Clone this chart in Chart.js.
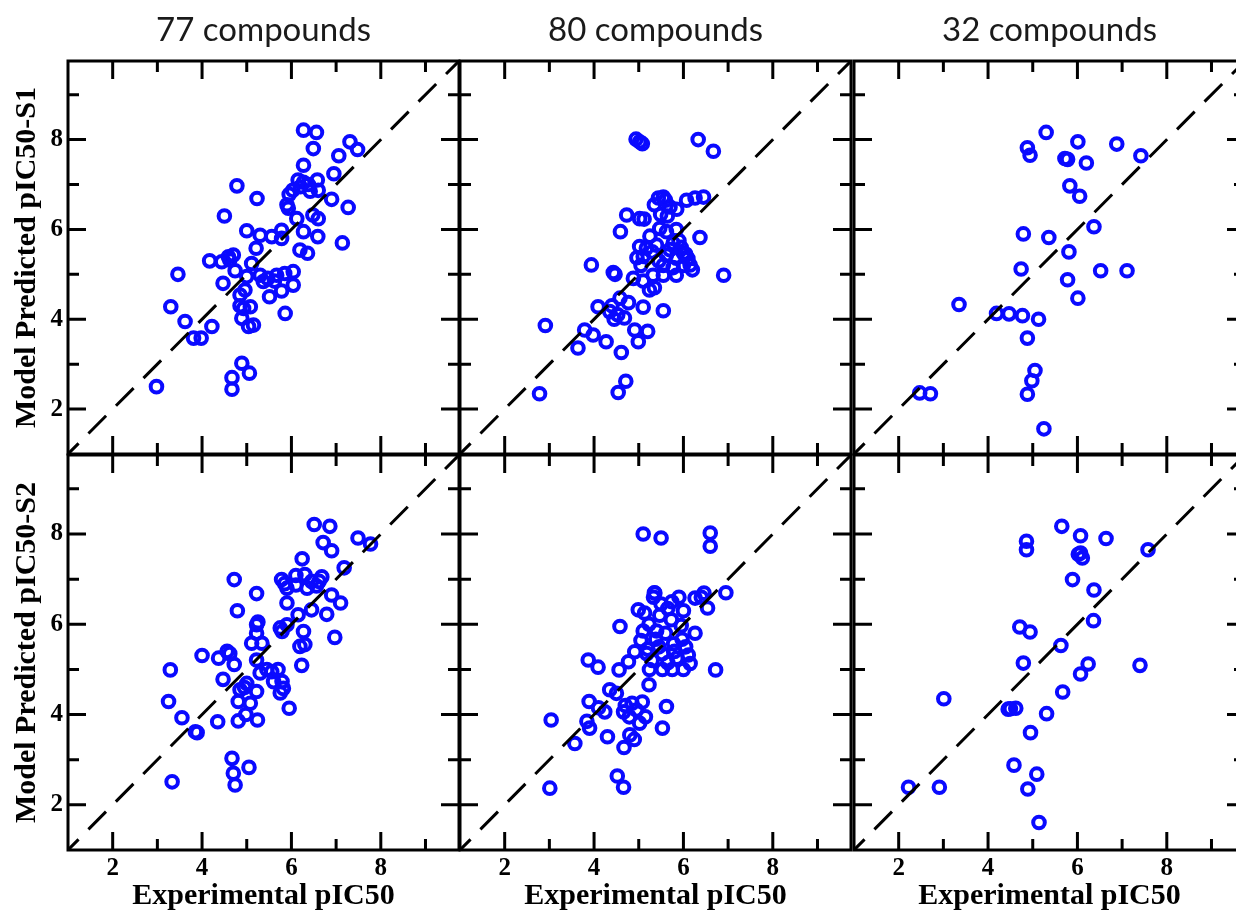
<!DOCTYPE html>
<html>
<head>
<meta charset="utf-8">
<script src="https://cdn.jsdelivr.net/npm/chart.js@4.4.1/dist/chart.umd.min.js"></script>
<style>
html,body{margin:0;padding:0;background:#fff;overflow:hidden;width:1236px;height:911px;}
canvas{position:absolute;left:0;top:0;}
</style>
</head>
<body>
<canvas id="p0" width="1260" height="911"></canvas>
<canvas id="p1" width="1260" height="911"></canvas>
<canvas id="p2" width="1260" height="911"></canvas>
<canvas id="p3" width="1260" height="911"></canvas>
<canvas id="p4" width="1260" height="911"></canvas>
<canvas id="p5" width="1260" height="911"></canvas>
<script>
// ---- labels ----
const colTitles = ['77 compounds', '80 compounds', '32 compounds'];
const rowTitles = ['Model Predicted pIC50-S1', 'Model Predicted pIC50-S2'];
const xTitle = 'Experimental pIC50';
const majorTicks = [2, 4, 6, 8];
const minorTicks = [3, 5, 7, 9];
const axisMin = 1, axisMax = 9.75;
const diagonal = [1, 9.75];

// ---- data: 77 compounds, S1 ----
const exp77S1 = [6.27,6.56,6.49,7.31,7.48,7.06,6.95,6.27,6.15,6.27,6.03,5.95,6.58,6.60,6.90,7.27,5.93,6.12,6.48,6.60,4.78,5.23,4.50,5.00,5.30,5.56,5.78,6.27,5.78,6.59,7.14,5.21,6.19,6.36,4.17,4.44,4.59,4.70,4.74,5.11,3.46,4.47,5.30,5.37,5.47,5.67,6.04,6.04,5.78,5.51,4.96,4.85,4.93,5.08,4.89,5.04,5.15,5.86,3.30,3.62,3.81,3.98,4.22,4.89,5.06,4.67,4.67,2.98,6.20,6.38,5.00,5.62,4.85,5.85,6.42,4.62,5.90];
const pred77S1 = [8.21,8.16,7.80,7.95,7.78,7.64,7.24,7.43,7.10,7.05,6.87,6.78,7.10,6.87,6.67,6.49,6.47,6.24,6.32,6.24,6.97,6.69,6.30,5.97,5.87,5.84,5.98,5.95,5.80,5.84,5.70,5.58,5.54,5.47,5.30,5.28,5.39,5.43,5.08,5.24,5.00,4.80,4.98,4.84,4.91,4.98,5.06,4.76,4.63,4.50,4.65,4.54,4.24,4.28,4.02,3.84,3.87,4.13,4.28,3.95,3.58,3.58,3.84,3.02,2.80,2.70,2.44,2.50,6.95,7.00,4.95,4.85,4.30,5.02,6.85,5.32,6.55];

// ---- data: 80 compounds, S1 ----
const exp80S1 = [4.94,5.02,5.08,6.33,6.67,5.44,5.55,6.07,6.26,6.45,4.73,5.02,5.12,4.59,5.49,5.70,5.85,5.64,5.47,5.62,5.84,6.37,5.02,5.17,5.40,5.77,6.00,4.96,5.10,5.62,5.84,6.15,5.55,5.77,5.05,5.32,5.55,5.84,6.90,3.94,4.43,4.47,4.88,5.10,5.24,4.09,4.58,4.77,4.35,4.53,4.68,5.10,5.55,3.79,3.98,4.27,3.64,4.61,4.91,5.20,4.99,2.91,2.78,4.71,4.54,6.10,5.95,5.70,5.45,5.30,6.20,6.05,4.40,5.35,5.60,6.00,5.25,4.45,5.35,5.90];
const pred80S1 = [8.01,7.95,7.91,8.00,7.74,6.70,6.72,6.65,6.70,6.72,6.32,6.24,6.23,5.95,6.33,6.50,6.45,6.30,6.02,5.95,6.00,5.82,5.62,5.58,5.65,5.69,5.47,5.37,5.40,5.43,5.36,5.21,5.20,5.15,5.20,4.98,4.98,4.98,4.98,5.21,5.04,5.00,4.91,4.85,4.65,4.28,4.47,4.37,4.17,4.10,4.03,4.27,4.19,3.76,3.65,3.50,3.36,3.26,3.76,3.73,3.50,3.86,2.34,2.62,2.37,5.35,5.60,5.55,5.30,5.50,5.10,5.45,4.30,6.55,6.65,5.20,5.85,4.00,4.70,5.75];

// ---- data: 32 compounds, S1 ----
const exp32S1 = [5.30,4.88,4.94,6.01,6.88,7.42,5.72,5.78,6.20,5.83,6.05,6.37,4.79,5.36,5.81,4.74,6.52,7.11,5.78,6.01,3.35,4.19,4.47,4.77,5.13,4.88,5.05,4.98,4.88,2.47,2.71,5.25];
const pred32S1 = [8.16,7.82,7.65,7.95,7.90,7.64,7.58,7.56,7.48,6.97,6.74,6.06,5.90,5.82,5.50,5.12,5.08,5.08,4.88,4.47,4.33,4.13,4.12,4.08,4.00,3.58,2.86,2.63,2.33,2.36,2.34,1.56];

// ---- data: 77 compounds, S2 ----
const exp77S2 = [6.51,6.86,6.71,6.90,7.49,7.77,7.18,6.24,4.72,5.22,4.79,5.78,6.10,5.90,6.10,6.45,6.68,6.56,5.90,6.90,7.10,6.45,6.79,6.15,6.97,5.22,5.22,5.11,5.34,5.75,5.90,5.79,6.27,6.19,6.30,6.23,4.00,4.37,4.56,4.62,4.72,3.29,4.47,5.22,5.30,5.45,5.56,5.60,5.79,5.82,5.75,5.00,4.85,5.22,4.81,5.08,4.98,4.81,5.24,5.95,3.25,3.55,3.89,4.35,4.67,5.05,4.70,4.74,3.33,6.30,5.85,4.95,6.62,5.25,5.70,3.85,6.35];
const pred77S2 = [8.21,8.17,7.81,7.63,7.91,7.78,7.25,7.45,6.99,6.68,6.30,6.99,7.08,6.80,6.87,6.95,7.05,6.85,6.47,6.65,6.47,6.32,6.22,6.21,5.71,5.99,5.80,5.58,5.58,5.92,5.99,5.84,5.84,5.51,5.55,5.09,5.31,5.25,5.40,5.35,5.11,4.99,4.78,5.21,4.92,5.00,4.95,4.73,4.73,4.58,4.48,4.69,4.55,4.51,4.29,4.25,4.00,3.86,3.88,4.14,4.29,3.93,3.60,3.84,3.03,2.83,2.70,2.44,2.51,7.10,6.90,4.60,6.95,6.05,5.00,3.62,6.80];

// ---- data: 80 compounds, S2 ----
const exp80S2 = [5.10,5.50,6.60,6.60,5.36,5.33,5.74,6.26,6.46,6.95,6.54,4.99,5.13,4.58,5.23,5.47,5.73,5.95,6.26,5.05,5.38,5.78,5.97,4.91,5.18,5.53,6.11,6.15,3.87,4.09,4.56,4.77,5.24,5.53,5.75,6.00,5.23,6.72,4.50,3.89,4.24,4.66,4.85,5.08,4.79,5.02,5.62,5.53,3.04,3.90,3.84,4.30,3.57,4.67,4.80,4.90,4.52,4.66,3.01,5.60,5.45,5.85,5.30,5.65,6.00,5.90,5.10,5.50,4.35,5.35,5.80,5.65,5.40,6.05,5.20,4.95,4.70,5.15,4.10,6.40];
const pred80S2 = [8.00,7.91,8.02,7.73,6.69,6.60,6.50,6.58,6.69,6.70,6.36,6.32,6.25,5.95,6.00,6.20,6.10,5.97,5.80,5.64,5.67,5.57,5.67,5.39,5.35,5.35,5.32,5.13,5.21,5.05,4.99,5.17,5.00,5.00,5.00,5.00,4.66,4.99,4.47,4.29,4.06,4.06,4.25,4.28,3.95,3.81,4.18,3.70,3.88,3.70,3.85,3.51,3.36,3.27,3.55,3.45,2.64,2.39,2.37,5.80,5.50,5.25,5.20,6.35,6.30,6.60,5.85,6.45,4.55,6.70,5.40,5.15,5.85,5.50,5.45,4.10,4.20,3.95,4.15,6.60];

// ---- data: 32 compounds, S2 ----
const exp32S2 = [5.65,6.07,6.64,4.86,4.86,6.07,6.11,6.02,7.58,5.89,6.37,6.36,4.71,4.94,5.63,4.79,6.24,6.07,7.40,5.67,3.01,4.50,4.62,4.45,5.31,4.95,4.58,5.09,4.89,2.22,2.91,5.14];
const pred32S2 = [8.17,7.96,7.90,7.84,7.65,7.58,7.47,7.55,7.65,6.99,6.76,6.08,5.94,5.83,5.53,5.14,5.12,4.90,5.09,4.50,4.35,4.13,4.14,4.12,4.02,3.60,2.88,2.68,2.35,2.39,2.39,1.61];

const panels = [
  {r:0, c:0, x:exp77S1, y:pred77S1},
  {r:0, c:1, x:exp80S1, y:pred80S1},
  {r:0, c:2, x:exp32S1, y:pred32S1},
  {r:1, c:0, x:exp77S2, y:pred77S2},
  {r:1, c:1, x:exp80S2, y:pred80S2},
  {r:1, c:2, x:exp32S2, y:pred32S2}
];

// ---- layout (style) ----
const CW = 1260, CH = 911;
const L = [68, 460, 854], R = [459, 851, 1245];
const T = [61, 455], B = [454, 850];
const serif = "'Liberation Serif','Times New Roman',serif";

const framePlugin = {
  id: 'frame',
  afterDraw(chart) {
    const {ctx, chartArea: a} = chart;
    const xs = chart.scales.x, ys = chart.scales.y;
    ctx.save();
    ctx.strokeStyle = '#000';
    ctx.lineWidth = 3;
    ctx.beginPath();
    const seg = (x1, y1, x2, y2) => { ctx.moveTo(x1, y1); ctx.lineTo(x2, y2); };
    [[majorTicks, 18], [minorTicks, 11]].forEach(([vals, len]) => {
      vals.forEach(v => {
        const px = xs.getPixelForValue(v), py = ys.getPixelForValue(v);
        seg(px, a.bottom, px, a.bottom - len);
        seg(px, a.top, px, a.top + len);
        seg(a.left, py, a.left + len, py);
        seg(a.right, py, a.right - len, py);
      });
    });
    ctx.stroke();
    ctx.strokeRect(a.left, a.top, a.right - a.left, a.bottom - a.top);
    ctx.restore();
  }
};

panels.forEach((p, i) => {
  const {r, c} = p;
  const setTicks = s => { s.ticks = majorTicks.map(v => ({value: v})); };
  new Chart(document.getElementById('p' + i), {
    type: 'scatter',
    data: {
      datasets: [
        {
          type: 'line',
          data: diagonal.map(v => ({x: v, y: v})),
          borderColor: '#000',
          borderWidth: 3,
          borderDash: [25, 14],
          borderDashOffset: 10,
          pointRadius: 0,
          fill: false,
          order: 0
        },
        {
          type: 'scatter',
          data: p.x.map((v, k) => ({x: v, y: p.y[k]})),
          pointStyle: 'circle',
          pointRadius: 5.8,
          borderWidth: 4,
          borderColor: '#0a0aff',
          backgroundColor: 'rgba(0,0,0,0)',
          order: 1
        }
      ]
    },
    options: {
      responsive: false,
      animation: false,
      events: [],
      layout: {padding: {left: 0, top: 0, right: CW - R[c], bottom: 0}},
      plugins: {legend: {display: false}, tooltip: {enabled: false}},
      scales: {
        x: {
          type: 'linear', position: 'bottom', min: axisMin, max: axisMax,
          grid: {display: false, drawTicks: false}, border: {display: false},
          afterBuildTicks: setTicks,
          ticks: {display: r === 1, padding: 6, autoSkip: false, maxRotation: 0, color: '#000',
                  font: {family: serif, weight: 'bold', size: 25, lineHeight: 1}},
          title: {display: r === 1, text: xTitle, color: '#000', padding: {top: 0, bottom: 0},
                  font: {family: serif, weight: 'bold', size: 30, lineHeight: 1}},
          afterFit: s => { s.height = CH - B[r]; }
        },
        y: {
          type: 'linear', position: 'left', min: axisMin, max: axisMax,
          grid: {display: false, drawTicks: false}, border: {display: false},
          afterBuildTicks: setTicks,
          ticks: {display: c === 0, padding: 5, autoSkip: false, color: '#000',
                  font: {family: serif, weight: 'bold', size: 25, lineHeight: 1}},
          title: {display: c === 0, text: rowTitles[r], color: '#000', padding: {top: 12, bottom: 0},
                  font: {family: serif, weight: 'bold', size: 30, lineHeight: 1}},
          afterFit: s => { s.width = L[c]; }
        },
        xTop: {
          type: 'linear', position: 'top', min: axisMin, max: axisMax,
          grid: {display: false, drawTicks: false}, border: {display: false},
          ticks: {display: false},
          title: {display: r === 0, text: colTitles[c], color: '#1a1a1a', padding: {top: 14, bottom: 0},
                  font: {family: 'Lato', size: 33, lineHeight: 1}},
          afterFit: s => { s.height = T[r]; }
        }
      }
    },
    plugins: [framePlugin]
  });
});
</script>
</body>
</html>
